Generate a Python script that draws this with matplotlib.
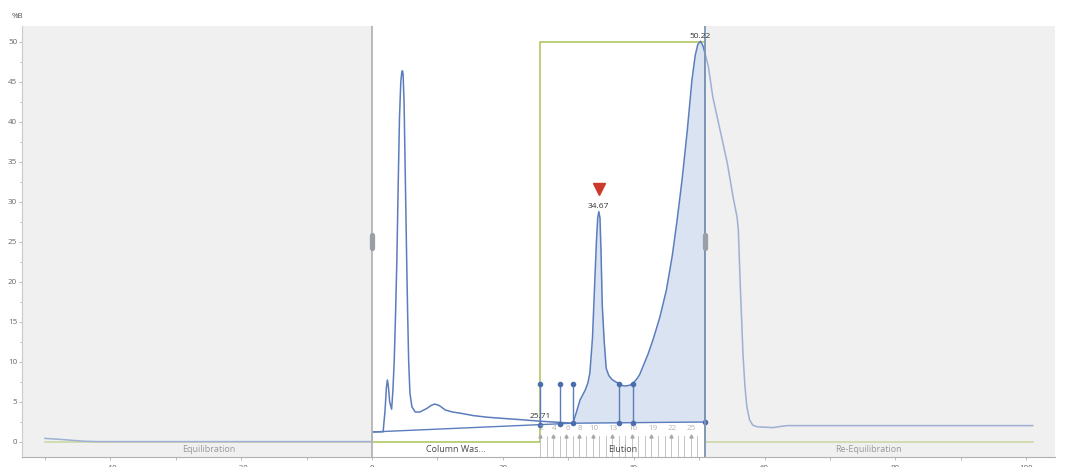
import numpy as np
import matplotlib
matplotlib.use("Agg")
import matplotlib.pyplot as plt
import matplotlib.transforms as mtransforms
from matplotlib.ticker import MultipleLocator

plt.rcParams['font.family'] = ['Open Sans', 'DejaVu Sans']

# UV trace: retention (min) and signal
trace_x = [-50, -48, -46, -44, -42, -30, -10, 0,
           0, 1.7, 2.0, 2.2, 2.35, 2.5, 2.7, 3.0, 3.2, 3.4, 3.6, 3.8, 4.0, 4.2,
           4.4, 4.55, 4.65, 4.75, 4.9, 5.05, 5.3, 5.45, 5.6, 5.8, 6.1, 6.6, 7.3,
           8.4, 9.0, 9.6, 10.3, 11.2, 12.3, 13.5, 15.5, 17.6, 20.0, 22.6, 25.71,
           28.7, 30.7, 31.2, 31.8, 32.6, 33.0, 33.3, 33.7, 34.0, 34.3, 34.5,
           34.67, 34.85, 35.0, 35.2, 35.5, 35.8, 36.2, 36.7, 37.3, 37.8, 38.3,
           38.8, 39.4, 39.9, 40.4, 40.9, 41.5, 42.2, 43.0, 44.0, 45.0, 45.9,
           46.6, 47.4, 48.2, 48.9, 49.4, 49.8, 50.22, 50.6, 50.9, 51.4, 52.1,
           53.2, 54.3, 55.2, 55.8, 56.0, 56.3, 56.7, 57.0, 57.3, 57.7, 58.2,
           58.9, 60.0, 61.3, 62.5, 63.5, 70, 101]
trace_y = [0.45, 0.35, 0.22, 0.1, 0.05, 0.05, 0.05, 0.05,
           1.25, 1.28, 4.0, 6.8, 7.75, 7.0, 5.0, 4.1, 6.5, 10.2, 16.0, 22.7, 32.0, 40.5,
           45.0, 46.2, 46.4, 46.0, 42.5, 35.2, 22.7, 16.0, 10.2, 6.1, 4.4, 3.75, 3.75,
           4.2, 4.55, 4.75, 4.55, 4.0, 3.75, 3.6, 3.3, 3.1, 2.95, 2.8, 2.6,
           2.45, 2.35, 3.6, 5.25, 6.5, 7.4, 8.6, 13.0, 19.0, 25.0, 28.0,
           28.8, 28.0, 24.0, 17.0, 12.5, 9.2, 8.3, 7.8, 7.5, 7.3, 7.05,
           7.0, 7.1, 7.35, 7.8, 8.4, 9.6, 11.0, 12.9, 15.6, 19.0, 23.3,
           27.5, 32.8, 39.0, 45.2, 48.3, 49.7, 50.1, 49.5, 48.6, 47.0, 43.1,
           39.0, 34.9, 30.6, 28.1, 26.5, 19.4, 11.1, 7.0, 4.4, 2.8, 2.1,
           1.9, 1.85, 1.8, 1.95, 2.05, 2.05, 2.05]

# Gradient programme (%B)
gradient_x = [-50, 25.71, 25.71, 50.9, 50.9, 101]
gradient_y = [0.05, 0.05, 50, 50, 0.05, 0.05]

# Method blocks
segment_edges = [-53.5, 0, 25.71, 50.9, 104.4]
segment_names = ["Equilibration", "Column Was...", "Elution", "Re-Equilibration"]
segment_active = [False, True, True, False]

# Integration baseline anchors
baseline_x = [0, 30.7, 50.9]
baseline_y = [1.25, 2.35, 2.5]

# Peak drop lines
drop_x = [25.71, 28.7, 30.7, 37.8, 39.9]
drop_top = [7.3, 7.3, 7.3, 7.3, 7.3]

# Labelled peaks
peak_rt = [25.71, 34.67, 50.22]
peak_height = [2.6, 28.8, 50.1]
selected_peak = 34.67

# Fraction collector
fraction_start = 25.71
fraction_width = 1.0
fraction_count = 26
fraction_first = 2
fraction_labels = [2, 4, 6, 8, 10, 13, 16, 19, 22, 25]

W, H = 1065, 467
fig = plt.figure(figsize=(W / 100, H / 100), dpi=100)
ax = fig.add_axes([22 / W, 10 / H, (1055 - 22) / W, (457 - 26) / H])
ax.set_xlim(-53.5, 104.4)
ax.set_ylim(-1.875, 52.0)

LINE = '#5b7cbd'
FILL = '#d9e3f1'
GRAY_BG = '#f0f0f0'
GREEN = '#a9c25a'

# Inactive blocks: grey background plus a veil over their traces
for lo, hi, active in zip(segment_edges[:-1], segment_edges[1:], segment_active):
    if not active:
        ax.axvspan(lo, hi, color=GRAY_BG, zorder=0, lw=0)
        ax.axvspan(lo, hi, color=GRAY_BG, alpha=0.45, zorder=3.5, lw=0)

tx = np.array(trace_x)
ty = np.array(trace_y)
ax.plot(gradient_x, gradient_y, color=GREEN, lw=1.1, zorder=2)
ax.plot(tx, ty, color=LINE, lw=1.1, zorder=3)

# Integrated area
mask = (tx >= baseline_x[1]) & (tx <= baseline_x[-1])
base_at = np.interp(tx[mask], baseline_x, baseline_y)
ax.fill_between(tx[mask], base_at, ty[mask], color=FILL, lw=0, zorder=1)
ax.plot(baseline_x, baseline_y, color=LINE, lw=1.0, zorder=3)
ax.plot([baseline_x[-1], baseline_x[-1]], [baseline_y[-1], np.interp(baseline_x[-1], tx, ty)],
        color=LINE, lw=1.2, zorder=3)

# Drop lines with end dots
for xd, top in zip(drop_x, drop_top):
    yb = float(np.interp(xd, baseline_x, baseline_y))
    ax.plot([xd, xd], [yb, top], color=LINE, lw=1.0, zorder=3)
    ax.plot([xd, xd], [yb, top], ls='none', marker='o', ms=3, color='#4a6dad', zorder=4)
ax.plot([baseline_x[-1]], [baseline_y[-1]], ls='none', marker='o', ms=3, color='#4a6dad', zorder=4)

# Block separators with drag handles
for xs, col in [(segment_edges[1], '#b4b4b4'), (segment_edges[3], '#7d96b6')]:
    ax.axvline(xs, color=col, lw=1.3, zorder=4)
    ax.plot([xs, xs], [24.3, 25.9], color='#9a9ea6', lw=3.8, solid_capstyle='round', zorder=5)

# Peak labels
for rt, h in zip(peak_rt, peak_height):
    tr = mtransforms.offset_copy(ax.transData, fig=fig, x=0, y=0.8, units='points')
    ax.text(rt, h, f"{rt:.2f}", transform=tr, ha='center', va='bottom',
            fontsize=6, color='#333333', zorder=6)
sel_h = peak_height[peak_rt.index(selected_peak)]
tr = mtransforms.offset_copy(ax.transData, fig=fig, x=0, y=16, units='points')
ax.plot([selected_peak], [sel_h], transform=tr, marker='v', ms=8.5, color='#cc3a2c',
        ls='none', zorder=6)

# Fraction strip
bounds = fraction_start + fraction_width * np.arange(fraction_count)
for b in bounds:
    ax.plot([b, b], [-1.875, 0.7], color='#c4c4c4', lw=0.7, zorder=2)
for n in fraction_labels:
    fx = fraction_start + (n - fraction_first) * fraction_width
    ax.text(fx + 0.15, 1.72, str(n), ha='center', va='center', fontsize=5.8,
            color='#b4b4b4', zorder=6)
    ax.plot([fx], [0.75], marker='^', ms=2.2, color='#a8a8a8', ls='none', zorder=6)

# Block names
for lo, hi, name, active in zip(segment_edges[:-1], segment_edges[1:], segment_names, segment_active):
    a = max(lo, -50)
    b = min(hi, 101)
    ax.text((a + b) / 2, -0.9, name, ha='center', va='center', fontsize=6.5,
            color='#4a4a4a' if active else '#999999', zorder=6)

# Axes styling
for side in ['top', 'right']:
    ax.spines[side].set_visible(False)
for side in ['left', 'bottom']:
    ax.spines[side].set_color('#b0b0b0')
    ax.spines[side].set_linewidth(0.8)
ax.set_yticks(np.arange(0, 51, 5))
ax.yaxis.set_minor_locator(MultipleLocator(2.5))
ax.set_xticks(np.arange(-40, 101, 20))
ax.xaxis.set_minor_locator(MultipleLocator(10))
ax.tick_params(axis='both', which='both', colors='#b0b0b0', labelcolor='#666666',
               labelsize=5.8, width=0.6)
ax.tick_params(axis='y', which='major', length=2, pad=1.5)
ax.tick_params(axis='y', which='minor', length=1.5)
ax.tick_params(axis='x', which='major', length=2.5, pad=3)
ax.tick_params(axis='x', which='minor', length=2)

fig.text(17 / W, 1 - 16 / H, "%B", ha='center', va='center', fontsize=5.8, color='#555555')

fig.savefig("out.png", dpi=100)
